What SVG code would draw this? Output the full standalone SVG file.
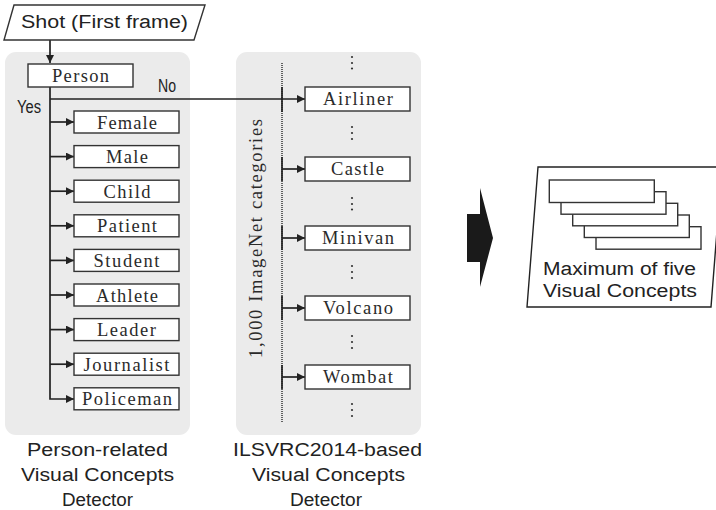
<svg xmlns="http://www.w3.org/2000/svg" width="716" height="510" viewBox="0 0 716 510">
<defs>
<style>
.panel{fill:#ebebeb;stroke:none}
.box{fill:#fff;stroke:#333;stroke-width:1.4}
.ln{fill:none;stroke:#222;stroke-width:1.7}
.sans{font-family:"Liberation Sans",Arial,sans-serif;font-size:18px;fill:#222}
.serif{font-family:"Liberation Serif","Times New Roman",serif;font-size:18.5px;fill:#2a2a2a;text-anchor:middle}
.dot{fill:#333}
</style>
<marker id="ah" viewBox="0 0 10 10" refX="10" refY="5" markerWidth="9" markerHeight="8" markerUnits="userSpaceOnUse" orient="auto">
<path d="M0,0 L10,5 L0,10 z" fill="#222"/>
</marker>
</defs>
<rect width="716" height="510" fill="#fff"/>
<g id="panel-person"><rect class="panel" x="5" y="52" width="185" height="383" rx="11"/></g>
<g id="panel-ilsvrc"><rect class="panel" x="236" y="52" width="185" height="383" rx="11"/></g>

<g id="connectors">
<line class="ln" x1="50" y1="40" x2="50" y2="63" marker-end="url(#ah)"/>
<polyline class="ln" points="50,87 50,399 74,399" marker-end="url(#ah)"/>
<line class="ln" x1="50" y1="99" x2="305" y2="99" marker-end="url(#ah)"/>
<line class="ln" x1="50" y1="122" x2="74" y2="122" marker-end="url(#ah)"/>
<line class="ln" x1="50" y1="156.6" x2="74" y2="156.6" marker-end="url(#ah)"/>
<line class="ln" x1="50" y1="191.2" x2="74" y2="191.2" marker-end="url(#ah)"/>
<line class="ln" x1="50" y1="225.8" x2="74" y2="225.8" marker-end="url(#ah)"/>
<line class="ln" x1="50" y1="260.4" x2="74" y2="260.4" marker-end="url(#ah)"/>
<line class="ln" x1="50" y1="295" x2="74" y2="295" marker-end="url(#ah)"/>
<line class="ln" x1="50" y1="329.6" x2="74" y2="329.6" marker-end="url(#ah)"/>
<line class="ln" x1="50" y1="364.2" x2="74" y2="364.2" marker-end="url(#ah)"/>
<line x1="282" y1="63" x2="282" y2="422" stroke="#333" stroke-width="1.5" stroke-dasharray="1,1"/>
<line class="ln" x1="282" y1="87" x2="282" y2="112" stroke-width="2.2"/>
<line class="ln" x1="282" y1="157" x2="282" y2="181" stroke-width="2.2"/>
<line class="ln" x1="282" y1="226" x2="282" y2="250" stroke-width="2.2"/>
<line class="ln" x1="282" y1="296" x2="282" y2="320" stroke-width="2.2"/>
<line class="ln" x1="282" y1="365" x2="282" y2="389" stroke-width="2.2"/>
<line class="ln" x1="282" y1="169" x2="305" y2="169" marker-end="url(#ah)"/>
<line class="ln" x1="282" y1="238" x2="305" y2="238" marker-end="url(#ah)"/>
<line class="ln" x1="282" y1="308" x2="305" y2="308" marker-end="url(#ah)"/>
<line class="ln" x1="282" y1="377" x2="305" y2="377" marker-end="url(#ah)"/>
</g>

<g id="shot">
<polygon points="14,5 205,5 194,40 4,40" fill="#fff" stroke="#333" stroke-width="1.4"/>
<text class="sans" x="21" y="28" font-size="19" textLength="167" lengthAdjust="spacingAndGlyphs">Shot (First frame)</text>
</g>

<g id="person">
<rect class="box" x="28" y="64" width="105" height="23"/>
<text class="serif" x="80.5" y="81.5" textLength="57" lengthAdjust="spacing">Person</text>
</g>
<text class="sans" x="158" y="92" font-size="14" textLength="18" lengthAdjust="spacingAndGlyphs">No</text>
<text class="sans" x="17" y="113" font-size="14" textLength="24" lengthAdjust="spacingAndGlyphs">Yes</text>

<g id="female"><rect class="box" x="74" y="111" width="105" height="22"/><text class="serif" x="127" y="128.5" textLength="60" lengthAdjust="spacing">Female</text></g>
<g id="male"><rect class="box" x="74" y="145.6" width="105" height="22"/><text class="serif" x="127" y="163.1" textLength="42" lengthAdjust="spacing">Male</text></g>
<g id="child"><rect class="box" x="74" y="180.2" width="105" height="22"/><text class="serif" x="127" y="197.7" textLength="47" lengthAdjust="spacing">Child</text></g>
<g id="patient"><rect class="box" x="74" y="214.8" width="105" height="22"/><text class="serif" x="127" y="232.3" textLength="60" lengthAdjust="spacing">Patient</text></g>
<g id="student"><rect class="box" x="74" y="249.4" width="105" height="22"/><text class="serif" x="126.5" y="266.9" textLength="66" lengthAdjust="spacing">Student</text></g>
<g id="athlete"><rect class="box" x="74" y="284" width="105" height="22"/><text class="serif" x="127" y="301.5" textLength="62" lengthAdjust="spacing">Athlete</text></g>
<g id="leader"><rect class="box" x="74" y="318.6" width="105" height="22"/><text class="serif" x="126.5" y="336.1" textLength="59" lengthAdjust="spacing">Leader</text></g>
<g id="journalist"><rect class="box" x="74" y="353.2" width="105" height="22"/><text class="serif" x="126.5" y="370.7" textLength="86" lengthAdjust="spacing">Journalist</text></g>
<g id="policeman"><rect class="box" x="74" y="387.8" width="105" height="22"/><text class="serif" x="127" y="405.3" textLength="90" lengthAdjust="spacing">Policeman</text></g>

<g id="airliner"><rect class="box" x="305" y="87" width="105" height="24"/><text class="serif" x="358" y="105" textLength="70" lengthAdjust="spacing">Airliner</text></g>
<g id="castle"><rect class="box" x="305" y="157" width="105" height="24"/><text class="serif" x="357.5" y="175" textLength="53" lengthAdjust="spacing">Castle</text></g>
<g id="minivan"><rect class="box" x="305" y="226" width="105" height="24"/><text class="serif" x="358" y="244" textLength="72" lengthAdjust="spacing">Minivan</text></g>
<g id="volcano"><rect class="box" x="305" y="296" width="105" height="24"/><text class="serif" x="358" y="314" textLength="70" lengthAdjust="spacing">Volcano</text></g>
<g id="wombat"><rect class="box" x="305" y="365" width="105" height="24"/><text class="serif" x="358" y="383" textLength="70" lengthAdjust="spacing">Wombat</text></g>

<g id="ellipses">
<circle class="dot" cx="352" cy="57" r="1.1"/><circle class="dot" cx="352" cy="63" r="1.1"/><circle class="dot" cx="352" cy="68.5" r="1.1"/>
<circle class="dot" cx="352" cy="127" r="1.1"/><circle class="dot" cx="352" cy="133" r="1.1"/><circle class="dot" cx="352" cy="139" r="1.1"/>
<circle class="dot" cx="352" cy="198" r="1.1"/><circle class="dot" cx="352" cy="204" r="1.1"/><circle class="dot" cx="352" cy="209.5" r="1.1"/>
<circle class="dot" cx="352" cy="266" r="1.1"/><circle class="dot" cx="352" cy="272" r="1.1"/><circle class="dot" cx="352" cy="278" r="1.1"/>
<circle class="dot" cx="352" cy="336" r="1.1"/><circle class="dot" cx="352" cy="342" r="1.1"/><circle class="dot" cx="352" cy="348" r="1.1"/>
<circle class="dot" cx="352" cy="404" r="1.1"/><circle class="dot" cx="352" cy="410" r="1.1"/><circle class="dot" cx="352" cy="416" r="1.1"/>
</g>

<text class="serif" transform="translate(262,238.5) rotate(-90)" x="0" y="0" textLength="239" lengthAdjust="spacing">1,000 ImageNet categories</text>

<g id="big-arrow"><polygon points="467,214 480,214 480,188 493,238 480,287 480,262 467,262" fill="#1a1a1a"/></g>

<g id="output">
<polygon points="538,167 722,167 711,307 527,307" fill="#fff" stroke="#222" stroke-width="1.4"/>
<rect class="box" x="596" y="226.7" width="105" height="22.5"/>
<rect class="box" x="584.3" y="215" width="105" height="22.5"/>
<rect class="box" x="572.7" y="203.3" width="105" height="22.5"/>
<rect class="box" x="561" y="191.7" width="105" height="22.5"/>
<rect class="box" x="549.3" y="180" width="105" height="22.5"/>
<text class="sans" x="543" y="275" textLength="153" lengthAdjust="spacingAndGlyphs">Maximum of five</text>
<text class="sans" x="543" y="297" textLength="154" lengthAdjust="spacingAndGlyphs">Visual Concepts</text>
</g>

<g id="label-person">
<text class="sans" x="27" y="456" textLength="141" lengthAdjust="spacingAndGlyphs">Person-related</text>
<text class="sans" x="21" y="481" textLength="153" lengthAdjust="spacingAndGlyphs">Visual Concepts</text>
<text class="sans" x="62" y="506" textLength="71" lengthAdjust="spacingAndGlyphs">Detector</text>
</g>
<g id="label-ilsvrc">
<text class="sans" x="233" y="456" textLength="189" lengthAdjust="spacingAndGlyphs">ILSVRC2014-based</text>
<text class="sans" x="252" y="481" textLength="153" lengthAdjust="spacingAndGlyphs">Visual Concepts</text>
<text class="sans" x="290" y="506" textLength="72" lengthAdjust="spacingAndGlyphs">Detector</text>
</g>
</svg>
